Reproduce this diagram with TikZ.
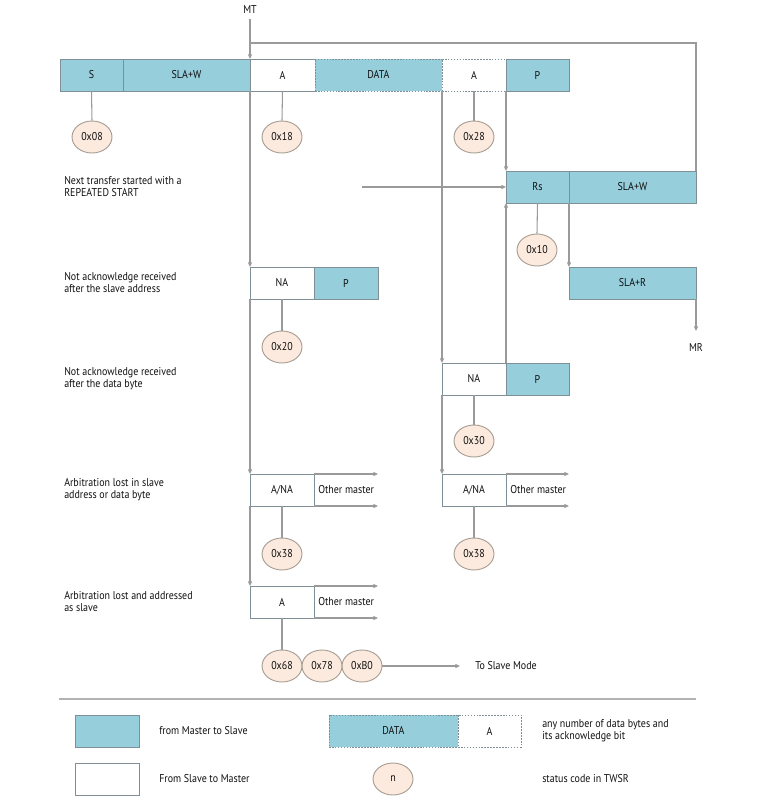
\documentclass[tikz,border=0pt]{standalone}
\usepackage{fontspec}
\setmainfont{PT Sans}[FakeStretch=0.88]
\usetikzlibrary{arrows.meta,shapes.geometric}
\definecolor{cy}{HTML}{96CEDC}
\definecolor{bordc}{HTML}{7E9096}
\definecolor{linec}{HTML}{9A9A9A}
\definecolor{ellf}{HTML}{FBEADD}
\definecolor{ellc}{HTML}{A89D93}
\definecolor{textc}{HTML}{111111}
\begin{document}
\begin{tikzpicture}[x=0.75pt,y=-0.75pt, font=\fontsize{8.5}{9}\selectfont, text=textc,
  box/.style={draw=bordc, line width=0.6pt, anchor=north west, minimum height=24pt, inner sep=0pt, outer sep=0pt},
  mbox/.style={box, fill=cy},
  sbox/.style={box, fill=white},
  dbox/.style={dash pattern=on 1.2pt off 1pt},
  bw/.style={minimum width={#1*0.75pt}},
  code/.style={ellipse, draw=ellc, line width=0.7pt, fill=ellf, minimum width=30pt, minimum height=24pt, inner sep=0pt},
  conn/.style={draw=linec, line width=0.8pt},
  arr/.style={conn, -{Triangle[length=3.5pt,width=3pt]}},
  lbl/.style={anchor=west, align=left, inner sep=0pt}]
\useasboundingbox (0,0) rectangle (763,811);

% top row
\node[mbox, bw=63] (s) at (60,59) {S};
\node[mbox, bw=127] (slaw) at (123,59) {SLA+W};
\node[sbox, bw=65] (a1) at (250,59) {A};
\node[mbox, bw=127, dbox] (data) at (315,59) {DATA};
\node[sbox, bw=64, dbox] (ad) at (442,59) {A};
\node[mbox, bw=63] (p0) at (506,59) {P};

% repeated start row
\node[mbox, bw=63] (rs) at (506,171) {Rs};
\node[mbox, bw=127] (slaw2) at (569,171) {SLA+W};
\node[mbox, bw=127] (slar) at (569,267) {SLA+R};

% NA rows
\node[sbox, bw=64] (na1) at (250,267) {NA};
\node[mbox, bw=64] (p1) at (314,267) {P};
\node[sbox, bw=64] (na2) at (442,363) {NA};
\node[mbox, bw=63] (p2) at (506,363) {P};

% arbitration rows
\node[sbox, bw=64] (ana1) at (250,474) {A/NA};
\node[sbox, bw=64] (ana2) at (442,474) {A/NA};
\node[sbox, bw=64] (a2) at (250,586) {A};
\node[lbl] (om1) at (318,490) {Other master};
\node[lbl] (om2) at (510,490) {Other master};
\node[lbl] (om3) at (318,602) {Other master};

% labels
\node (mt) at (250,10) {MT};
\node (mr) at (696,347) {MR};
\node[lbl] (l1) at (64,187) {Next transfer started with a\\REPEATED START};
\node[lbl] (l2) at (64,283) {Not acknowledge received\\after the slave address};
\node[lbl] (l3) at (64,379) {Not acknowledge received\\after the data byte};
\node[lbl] (l4) at (64,490) {Arbitration lost in slave\\address or data byte};
\node[lbl] (l5) at (64,602) {Arbitration lost and addressed\\as slave};
\node[lbl] (tsm) at (475,666) {To Slave Mode};

% coordinates
\coordinate (loopR) at (696,43);
\coordinate (loopL) at (250,43);
\coordinate (ntS) at (362,187);
\coordinate (mrE) at (696,331);
\coordinate (om1a) at (378,474);
\coordinate (om1b) at (378,506);
\coordinate (om2a) at (569,474);
\coordinate (om2b) at (569,506);
\coordinate (om3a) at (378,586);
\coordinate (om3b) at (378,618);
\coordinate (tsmE) at (460,666);

% connectors
\draw[arr] (mt.south) -- (a1.north west);
\draw[conn] (slaw2.north east) -- (loopR) -- (loopL);
\draw[arr] (a1.south west) -- (na1.north west);
\draw[arr] (na1.south west) -- (ana1.north west);
\draw[arr] (ana1.south west) -- (a2.north west);
\draw[arr] (ad.south west) -- (na2.north west);
\draw[arr] (na2.south west) -- (ana2.north west);
\draw[arr] (ad.south east) -- (rs.north west);
\draw[arr] (ntS) -- (rs.west);
\draw[arr] (p2.north west) -- (rs.south west);
\draw[arr] (slaw2.south west) -- (slar.north west);
\draw[arr] (slar.south east) -- (mrE);
\draw[arr] (ana1.north east) -- (om1a);
\draw[arr] (ana1.south east) -- (om1b);
\draw[arr] (ana2.north east) -- (om2a);
\draw[arr] (ana2.south east) -- (om2b);
\draw[arr] (a2.north east) -- (om3a);
\draw[arr] (a2.south east) -- (om3b);

% status codes
\node[code] (c08) at (92,137) {0x08};
\node[code] (c18) at (282,137) {0x18};
\node[code] (c28) at (474,137) {0x28};
\node[code] (c10) at (537,250) {0x10};
\node[code] (c20) at (282,347) {0x20};
\node[code] (c30) at (474,441) {0x30};
\node[code] (c38a) at (282,554) {0x38};
\node[code] (c38b) at (474,554) {0x38};
\node[code] (c68) at (282,666) {0x68};
\node[code] (c78) at (322,666) {0x78};
\node[code] (cb0) at (362,666) {0xB0};
\draw[conn] (s.south) -- (c08.north);
\draw[conn] (a1.south) -- (c18.north);
\draw[conn] (ad.south) -- (c28.north);
\draw[conn] (rs.south) -- (c10.north);
\draw[conn] (na1.south) -- (c20.north);
\draw[conn] (na2.south) -- (c30.north);
\draw[conn] (ana1.south) -- (c38a.north);
\draw[conn] (ana2.south) -- (c38b.north);
\draw[conn] (a2.south) -- (c68.north);
\draw[arr] (cb0.east) -- (tsmE);

% separator and legend
\coordinate (sepL) at (59,699);
\coordinate (sepR) at (696,699);
\draw[draw=black!30, line width=1.5pt] (sepL) -- (sepR);
\node[mbox, bw=64] (lg1) at (75,715) {};
\node[sbox, bw=64] (lg2) at (75,763) {};
\node[lbl] (lt1) at (159,731) {from Master to Slave};
\node[lbl] (lt2) at (159,779) {From Slave to Master};
\node[mbox, bw=129, dbox] (lgd) at (329,715) {DATA};
\node[sbox, bw=63, dbox] (lga) at (458,715) {A};
\node[code] (lgn) at (393,779) {n};
\node[lbl] (lt3) at (542,731) {any number of data bytes and\\its acknowledge bit};
\node[lbl] (lt4) at (542,779) {status code in TWSR};
\end{tikzpicture}
\end{document}
